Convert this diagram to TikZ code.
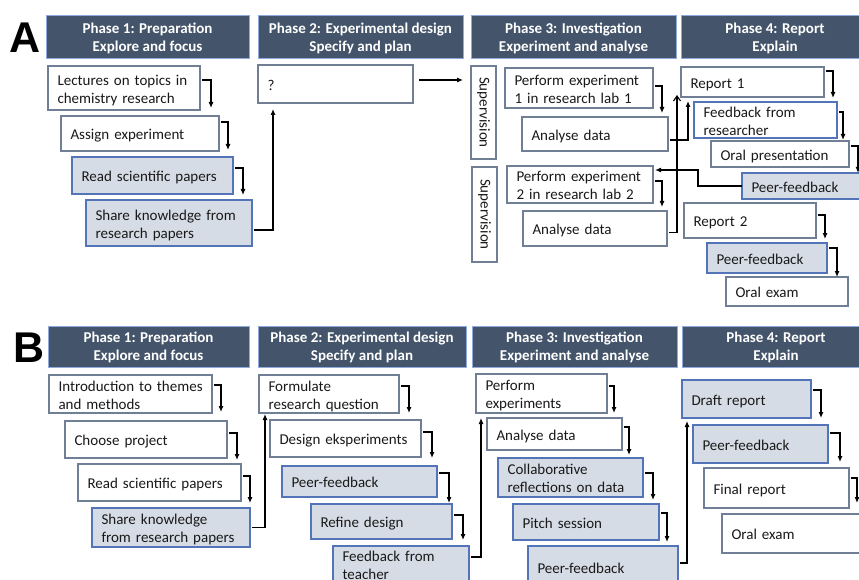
\documentclass[tikz,border=0pt]{standalone}
\usepackage{fontspec}
\setmainfont{Carlito}
\newfontfamily\labfont{Liberation Sans}
\usetikzlibrary{arrows.meta,calc}
\definecolor{hdrfill}{RGB}{68,84,106}
\definecolor{hdrline}{RGB}{143,170,220}
\definecolor{wline}{RGB}{112,126,150}
\definecolor{bfill}{RGB}{214,220,229}
\definecolor{bline}{RGB}{84,116,184}
\definecolor{txt}{RGB}{25,25,25}
\newcommand\bx[7]{%
  \pgfmathsetmacro\bxw{#4-#2}\pgfmathsetmacro\bxh{#5-#3}\pgfmathsetmacro\bxt{#4-#2-19}%
  \node[#6, anchor=north west, minimum width=\bxw pt, minimum height=\bxh pt, text width=\bxt pt] (#1) at (#2,#3) {\raisebox{-2.5pt}[\height][\depth]{\begin{tabular}{@{}l@{}}#7\end{tabular}}};}
\newcommand\hd[6]{%
  \pgfmathsetmacro\bxw{#4-#2}\pgfmathsetmacro\bxh{#5-#3}%
  \node[hdr, anchor=north west, minimum width=\bxw pt, minimum height=\bxh pt] (#1) at (#2,#3) {\raisebox{-1pt}[\height][\depth]{\begin{tabular}{@{}c@{}}#6\end{tabular}}};}
\newcommand\stair[5]{%
  \coordinate (st) at ($(#1.north east)+(#4,#3)$);
  \draw[arr,shorten >=#5pt] ($(#1.north east)+(2,#3)$) -- (st) -- (st |- #2.north);}
\begin{document}
\begin{tikzpicture}[x=1pt,y=-1pt,font=\fontsize{15}{18}\selectfont,
  hdr/.style={fill=hdrfill, draw=hdrline, line width=1pt, text=white, font=\bfseries\fontsize{15}{18}\selectfont, align=center, inner sep=0pt, outer sep=0pt},
  wbox/.style={draw=wline, fill=white, line width=1.2pt, inner xsep=9.5pt, inner ysep=0pt, outer sep=0pt, align=left, text=txt},
  gbox/.style={wbox, draw=bline, fill=bfill},
  bbox/.style={wbox, draw=bline},
  arr/.style={-{Latex[length=6pt,width=5pt]}, line width=1.1pt, black},
  lab/.style={font=\labfont\bfseries\fontsize{43}{43}\selectfont, anchor=base west, inner sep=0pt}]
\useasboundingbox (0,0) rectangle (859,580);
\fill[white] (0,0) rectangle (859,580);
\clip (0,0) rectangle (859,580);

% ---------- A ----------
\node[lab] (labA) at (9,53) {A};
\hd{ha1}{46}{16}{249}{59}{Phase 1: Preparation\\Explore and focus}
\hd{ha2}{258}{16}{463}{59}{Phase 2: Experimental design\\Specify and plan}
\hd{ha3}{471}{16}{676}{59}{Phase 3: Investigation\\Experiment and analyse}
\hd{ha4}{681}{16}{869}{59}{Phase 4: Report\\Explain}

\bx{lec}{48}{66}{200}{110}{wbox}{Lectures on topics in\\chemistry research}
\bx{asg}{61}{116}{219}{151}{wbox}{Assign experiment}
\bx{rsp}{72}{157}{233}{194}{gbox}{Read scientific papers}
\bx{shk}{86}{200}{252}{246}{gbox}{Share knowledge from\\research papers}

\bx{qq}{258}{65}{413}{103}{wbox}{?}

\node[wbox, anchor=north west, minimum width=25pt, minimum height=93pt, inner xsep=0pt] (sup1) at (471,66) {};
\node[rotate=-90, text=txt] (sv1) at (sup1.center) {Supervision};
\node[wbox, anchor=north west, minimum width=25pt, minimum height=95pt, inner xsep=0pt] (sup2) at (472,167) {};
\node[rotate=-90, text=txt] (sv2) at (sup2.center) {Supervision};

\bx{pe1}{505}{68}{653}{108}{wbox}{Perform experiment\\1 in research lab 1}
\bx{an1}{522}{117}{668}{151}{wbox}{Analyse data}
\bx{pe2}{507}{166}{653}{203}{wbox}{Perform experiment\\2 in research lab 2}
\bx{an2}{523}{211}{667}{246}{wbox}{Analyse data}

\bx{rp1}{681}{67}{824}{97}{wbox}{Report 1}
\bx{fbr}{694}{102}{837}{136}{bbox}{Feedback from\\researcher}
\bx{orp}{711}{141}{849}{167}{wbox}{Oral presentation}
\bx{pfa}{742}{173}{880}{199}{gbox}{Peer-feedback}
\bx{rp2}{684}{203}{816}{238}{wbox}{Report 2}
\bx{pfb}{707}{243}{827}{273}{gbox}{Peer-feedback}
\bx{oex}{726}{277}{848}{306}{wbox}{Oral exam}

\stair{lec}{asg}{14}{11}{8}
\stair{asg}{rsp}{6}{9}{7}
\stair{rsp}{shk}{11}{10}{5}
\stair{pe1}{an1}{18}{9}{4}
\stair{pe2}{an2}{15}{9}{4}
\stair{rp1}{fbr}{4}{9}{4}
\stair{fbr}{orp}{10}{6}{1}
\stair{orp}{pfa}{5}{9}{0}
\stair{rp2}{pfb}{12}{9}{4}
\stair{pfb}{oex}{5}{10}{0}

\draw[arr] ($(shk.north east)+(2,30)$) -| ($(qq.south west)+(15,6)$);
\draw[arr,shorten >=8pt] ($(qq.east)+(6,-4)$) coordinate (qa) -- (qa -| sup1.west);
\draw[-{Straight Barb[length=5pt,width=7pt]}, line width=1.1pt] ($(an2.east)+(2,4)$) -| ($(rp1.south west)+(-4,-2)$);
\draw[arr] ($(an1.east)+(2,6)$) -| ($(rp1.south west)+(7,4)$);
\draw[arr] (pfa.west) -- ++(-44,0) |- ($(pe2.north east)+(2,4)$);

% ---------- B ----------
\node[lab] (labB) at (13,362) {B};
\hd{hb1}{48}{326}{249}{367}{Phase 1: Preparation\\Explore and focus}
\hd{hb2}{258}{326}{466}{367}{Phase 2: Experimental design\\Specify and plan}
\hd{hb3}{472}{326}{677}{367}{Phase 3: Investigation\\Experiment and analyse}
\hd{hb4}{682}{326}{870}{367}{Phase 4: Report\\Explain}

\bx{itm}{49}{375}{212}{413}{wbox}{Introduction to themes\\and methods}
\bx{chp}{65}{421}{227}{458}{wbox}{Choose project}
\bx{rsb}{78}{464}{241}{501}{wbox}{Read scientific papers}
\bx{skb}{92}{508}{250}{547}{gbox}{Share knowledge\\from research papers}

\bx{frq}{259}{375}{399}{413}{wbox}{Formulate\\research question}
\bx{dex}{270}{420}{421}{457}{wbox}{Design eksperiments}
\bx{pf2}{282}{466}{437}{497}{gbox}{Peer-feedback}
\bx{rfd}{311}{504}{452}{539}{gbox}{Refine design}
\bx{fbt}{333}{546}{469}{583}{gbox}{Feedback from\\teacher}

\bx{pex}{476}{374}{607}{413}{wbox}{Perform\\experiments}
\bx{anb}{487}{418}{622}{450}{wbox}{Analyse data}
\bx{col}{498}{458}{643}{497}{gbox}{Collaborative\\reflections on data}
\bx{pit}{513}{504}{659}{540}{gbox}{Pitch session}
\bx{pf3}{528}{546}{678}{588}{gbox}{Peer-feedback}

\bx{drf}{682}{380}{811}{418}{gbox}{Draft report}
\bx{pf4}{693}{425}{828}{463}{gbox}{Peer-feedback}
\bx{fin}{704}{468}{849}{508}{wbox}{Final report}
\bx{orx}{722}{514}{880}{553}{wbox}{Oral exam}

\stair{itm}{chp}{10}{9}{9}
\stair{chp}{rsb}{12}{10}{4}
\stair{rsb}{skb}{12}{9}{5}
\stair{frq}{dex}{11}{10}{7}
\stair{dex}{pf2}{12}{11}{8}
\stair{pf2}{rfd}{7}{12}{1}
\stair{rfd}{fbt}{11}{11}{6}
\stair{pex}{anb}{12}{7}{5}
\stair{anb}{col}{9}{7}{3}
\stair{col}{pit}{15}{10}{4}
\stair{pit}{pf3}{9}{8}{4}
\stair{drf}{pf4}{10}{10}{7}
\stair{pf4}{fin}{8}{12}{6}
\stair{fin}{orx}{10}{8}{11}

\draw[arr] ($(skb.east)+(2,0)$) -| ($(frq.south west)+(6,1)$);
\draw[arr] ($(fbt.north east)+(2,11)$) -| ($(pex.south west)+(5,5)$);
\draw[arr] ($(pf3.north east)+(2,17)$) -| ($(drf.south west)+(5,3)$);
\end{tikzpicture}
\end{document}
